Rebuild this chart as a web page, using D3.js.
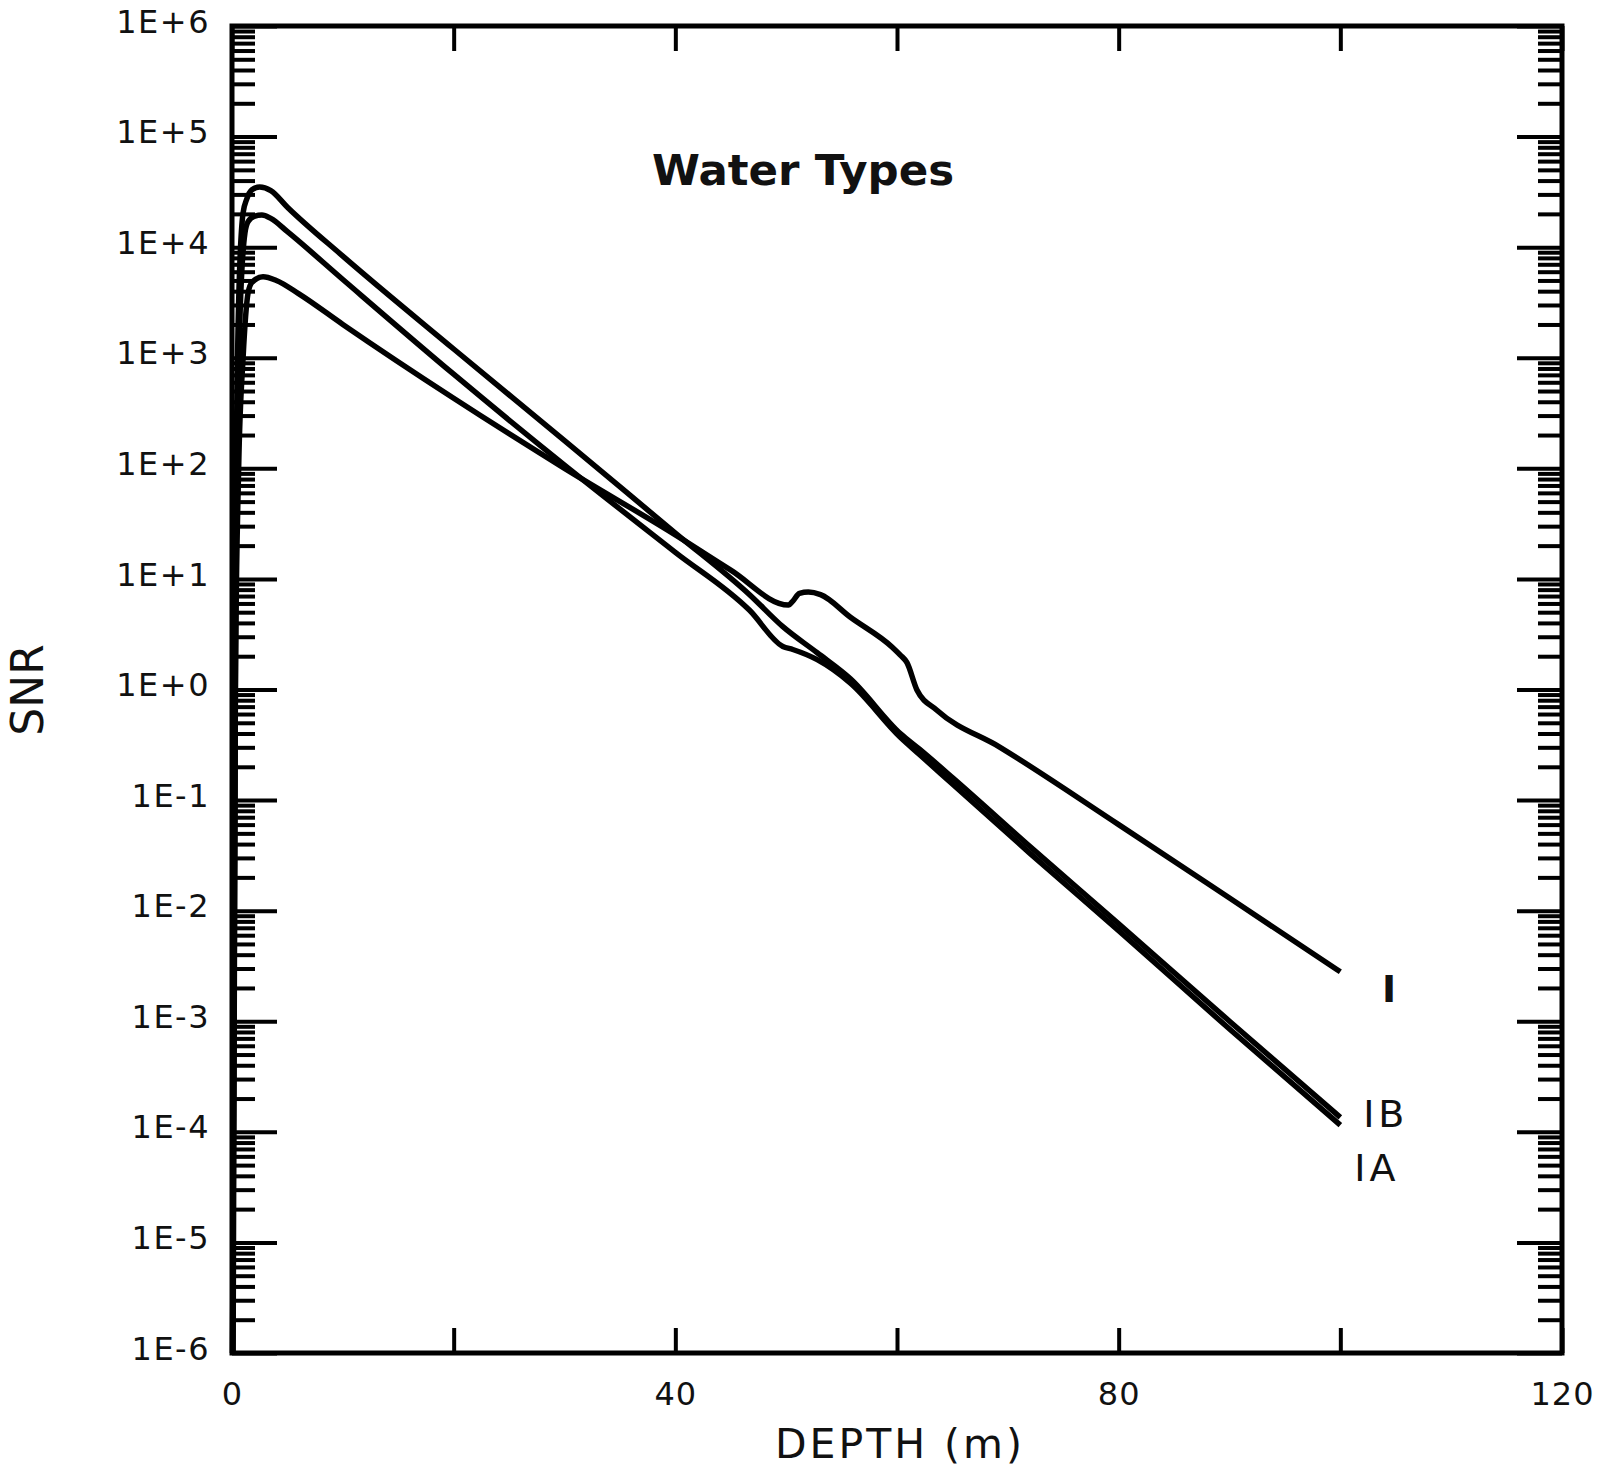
<!DOCTYPE html>
<html>
<head>
<meta charset="utf-8">
<script src="https://cdn.jsdelivr.net/npm/d3@7"></script>
<style>
	html, body { margin: 0; padding: 0; background: #fff; }
	svg { display: block; }
	text { font-family: "DejaVu Sans", sans-serif; fill: #111; }
</style>
</head>
<body>
<svg id="chart" width="1600" height="1471"></svg>
<script>
(function () {

// Depth (m) of each sampled point, and the SNR read at it, one pair of arrays per water type.
var depthI  = [0.1, 0.3, 0.6, 1.0, 1.45, 1.8, 2.8, 4, 6, 10, 20, 30, 40, 45, 50.2, 50.6, 51.2, 52.0, 53.1, 55.8, 59.6, 60.3, 60.9, 61.8, 63.6, 69.3, 80, 90, 100];
var snrI    = [1e-6, 1, 100, 1000, 3.85e3, 4.8e3, 5.4e3, 5.0e3, 3.8e3, 2.0e3, 430, 100, 25, 12, 5.8, 6.3, 7.4, 7.6, 7.2, 4.5, 2.4, 2.05, 1.75, 0.99, 0.65, 0.30, 0.060, 0.013, 0.0028];

var depthIB = [0.05, 0.3, 0.6, 1.0, 1.32, 1.8, 2.5, 3.5, 5, 10, 20, 30, 40, 46.7, 49.7, 52.8, 55.8, 60.3, 62, 65, 72, 80, 90, 100];
var snrIB   = [1e-6, 10, 3.2e3, 2.04e4, 2.7e4, 3.3e4, 3.5e4, 3.25e4, 2.3e4, 8.3e3, 1.2e3, 178, 26, 7.2, 3.7, 2.15, 1.25, 0.40, 0.29, 0.16, 0.038, 7.6e-3, 1.0e-3, 1.35e-4];

var depthIA = [0.05, 0.35, 0.7, 1.17, 1.45, 2.0, 2.7, 3.5, 5, 10, 20, 30, 40, 46.7, 49.7, 50.6, 52.8, 55.8, 60.3, 62, 65, 72, 80, 90, 100];
var snrIA   = [1e-6, 10, 2.0e3, 1.35e4, 1.7e4, 1.9e4, 1.95e4, 1.82e4, 1.38e4, 5.1e3, 710, 107, 17.4, 5.2, 2.45, 2.3, 1.86, 1.14, 0.37, 0.26, 0.14, 0.033, 6.6e-3, 8.5e-4, 1.15e-4];

// Axis ticks.
var depthTicks  = [0, 20, 40, 60, 80, 100, 120];
var depthLabels = [0, 40, 80, 120];
var snrDecades  = [1e-6, 1e-5, 1e-4, 1e-3, 1e-2, 1e-1, 1e0, 1e1, 1e2, 1e3, 1e4, 1e5, 1e6];

// Curve labels at the right-hand end of each line.
var curveNames = ["I", "IB", "IA"];
var curveLabelAt = [[104.4, 0.0015], [104.1, 1.1e-4], [103.3, 3.6e-5]];

var margin = { top: 26, right: 38, bottom: 118, left: 232 };
var width = 1600 - margin.left - margin.right;
var height = 1471 - margin.top - margin.bottom;

var svg = d3.select('#chart');
var g = svg.append('g')
	.attr('transform', 'translate(' + margin.left + ',' + margin.top + ')');

var x = d3.scaleLinear().domain([0, 120]).range([0, width]);
var y = d3.scaleLog().domain([1e-6, 1e6]).range([height, 0]);

// 2..9 between each pair of decades.
var minorTicks = [];
snrDecades.slice(0, -1).forEach(function (d) {
	for (var k = 2; k <= 9; k++) minorTicks.push(d * k);
});

var formatSnr = function (d) {
	var e = Math.round(Math.log10(d));
	return '1E' + (e < 0 ? '-' : '+') + Math.abs(e);
};

// Strip the domain path and make the tick lines heavy, like the original plot.
var styleAxis = function (sel, w) {
	sel.select('.domain').remove();
	sel.selectAll('.tick line').attr('stroke', '#000').attr('stroke-width', w);
};

// Left axis: labels outside, ticks pointing into the plot.
g.append('g')
	.call(d3.axisLeft(y).tickValues(minorTicks).tickSize(-23).tickFormat(''))
	.call(styleAxis, 4);
g.append('g')
	.call(d3.axisLeft(y).tickValues(snrDecades).tickSize(-45).tickPadding(22).tickFormat(formatSnr))
	.call(styleAxis, 4)
	.selectAll('text')
		.attr('font-size', 32)
		.attr('letter-spacing', 1.5)
		.attr('dy', '0.19em')
		.attr('fill', '#111');

// Right axis mirrors the left one, without labels.
g.append('g')
	.attr('transform', 'translate(' + width + ',0)')
	.call(d3.axisRight(y).tickValues(minorTicks).tickSize(-24).tickFormat(''))
	.call(styleAxis, 4);
g.append('g')
	.attr('transform', 'translate(' + width + ',0)')
	.call(d3.axisRight(y).tickValues(snrDecades).tickSize(-45).tickFormat(''))
	.call(styleAxis, 4);

// Bottom and top axes.
g.append('g')
	.attr('transform', 'translate(0,' + height + ')')
	.call(d3.axisBottom(x).tickValues(depthTicks).tickSize(-25).tickPadding(29)
		.tickFormat(function (d) { return depthLabels.indexOf(d) >= 0 ? d : ''; }))
	.call(styleAxis, 4)
	.selectAll('text')
		.attr('font-size', 32)
		.attr('letter-spacing', 1)
		.attr('fill', '#111');
g.append('g')
	.call(d3.axisTop(x).tickValues(depthTicks).tickSize(-25).tickFormat(''))
	.call(styleAxis, 4);

// Frame.
g.append('rect')
	.attr('width', width)
	.attr('height', height)
	.attr('fill', 'none')
	.attr('stroke', '#000')
	.attr('stroke-width', 5);

// Data lines.
var series = [
	{ name: 'I', depth: depthI, snr: snrI },
	{ name: 'IB', depth: depthIB, snr: snrIB },
	{ name: 'IA', depth: depthIA, snr: snrIA }
];

var line = d3.line()
	.x(function (d) { return x(d[0]); })
	.y(function (d) { return y(d[1]); })
	.curve(d3.curveMonotoneX);

g.append('g').attr('class', 'lines').selectAll('path')
	.data(series)
	.enter().append('path')
		.attr('d', function (s) { return line(d3.zip(s.depth, s.snr)); })
		.attr('fill', 'none')
		.attr('stroke', '#000')
		.attr('stroke-width', 5.5)
		.attr('stroke-linejoin', 'round');

// Curve names.
g.selectAll('text.curve')
	.data(curveNames)
	.enter().append('text')
		.attr('class', 'curve')
		.attr('x', function (d, i) { return x(curveLabelAt[i][0]); })
		.attr('y', function (d, i) { return y(curveLabelAt[i][1]); })
		.attr('text-anchor', 'middle')
		.attr('font-size', 38)
		.attr('font-weight', function (d) { return d === 'I' ? 'bold' : 'normal'; })
		.attr('letter-spacing', function (d) { return d === 'I' ? 0 : 4; })
		.text(function (d) { return d; });

// Titles.
svg.append('text')
	.attr('x', 803)
	.attr('y', 185)
	.attr('text-anchor', 'middle')
	.attr('font-size', 43.5)
	.attr('font-weight', 'bold')
	.text('Water Types');

svg.append('text')
	.attr('x', 900)
	.attr('y', 1458)
	.attr('text-anchor', 'middle')
	.attr('font-size', 41)
	.attr('letter-spacing', 3)
	.text('DEPTH (m)');

svg.append('text')
	.attr('transform', 'translate(43,690) rotate(-90)')
	.attr('text-anchor', 'middle')
	.attr('font-size', 44)
	.text('SNR');

})();
</script>
</body>
</html>
